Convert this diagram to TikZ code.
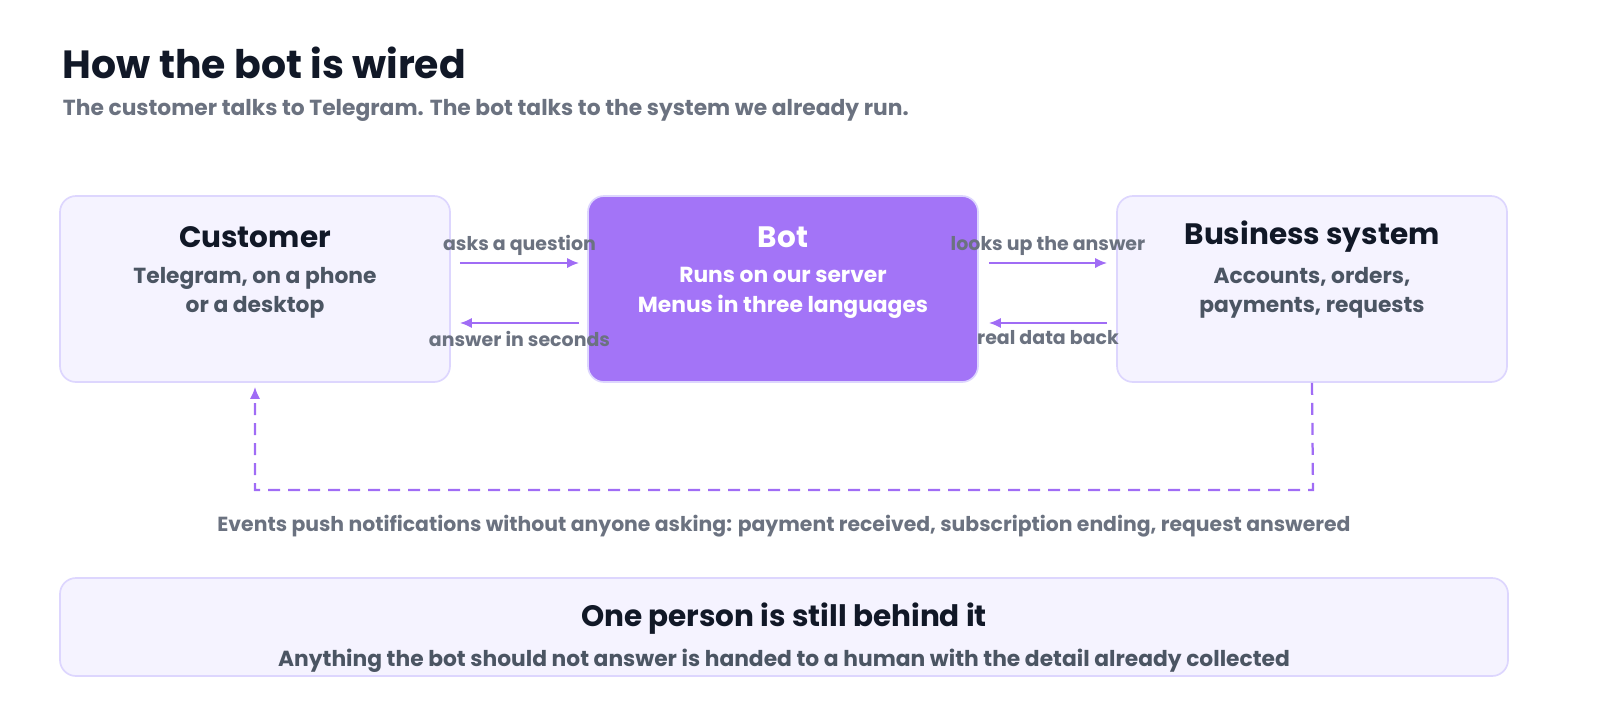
\documentclass[tikz,border=0pt]{standalone}
\usepackage{fontspec}
\setmainfont{Poppins}
\usetikzlibrary{arrows.meta,positioning}
\definecolor{ink}{HTML}{111827}
\definecolor{muted}{HTML}{6B7280}
\definecolor{body}{HTML}{4B5563}
\definecolor{boxfill}{HTML}{F5F3FF}
\definecolor{boxline}{HTML}{DDD6FE}
\definecolor{botfill}{HTML}{A374F7}
\definecolor{flowc}{HTML}{A06CF5}

\begin{document}
\begin{tikzpicture}[x=0.25mm,y=-0.25mm]
\tikzset{
box/.style = {rectangle, draw=boxline, line width=1.2pt, fill=boxfill,
  rounded corners=4mm, minimum width=97.5mm, minimum height=46.5mm},
boxhead/.style = {font=\fontsize{21}{25}\selectfont\bfseries, text=ink},
boxbody/.style = {font=\fontsize{15.5}{21}\selectfont\bfseries, text=body, align=center},
flow/.style = {draw=flowc, line width=1.6pt, -{Latex[length=3mm,width=2.6mm]}},
flowlab/.style = {font=\fontsize{13.5}{16}\selectfont\bfseries, text=muted}
}

% header
\node[anchor=west, font=\fontsize{28}{32}\selectfont\bfseries, text=ink] (title) at (58,63) {How the bot is wired};
\node[anchor=west, font=\fontsize{15.5}{18}\selectfont\bfseries, text=muted] (sub) at (58,110)
  {The customer talks to Telegram. The bot talks to the system we already run.};

% the three boxes
\node[box] (cust) at (255,289) {};
\node[box, fill=botfill, draw=boxline] (bot) at (783,289) {};
\node[box] (biz) at (1312,289) {};

\node[boxhead] (custhead) at (255,237) {Customer};
\node[boxbody] (custbody) at (255,293) {Telegram, on a phone\\or a desktop};
\node[boxhead, text=white] (bothead) at (783,237) {Bot};
\node[boxbody, text=white] (botbody) at (783,293) {Runs on our server\\Menus in three languages};
\node[boxhead] (bizhead) at (1312,237) {Business system};
\node[boxbody] (bizbody) at (1312,293) {Accounts, orders,\\payments, requests};

% request / reply arrows
\draw[flow] ([shift={(9,-26)}]cust.east) -- node[flowlab, above=0.5mm] {asks a question} ([shift={(-8,-26)}]bot.west);
\draw[flow] ([shift={(-8,34)}]bot.west) -- node[flowlab, below=0.5mm] {answer in seconds} ([shift={(9,34)}]cust.east);
\draw[flow] ([shift={(10,-26)}]bot.east) -- node[flowlab, above=0.5mm] {looks up the answer} ([shift={(-9,-26)}]biz.west);
\draw[flow] ([shift={(-9,34)}]biz.west) -- node[flowlab, below=0.5mm] {real data back} ([shift={(10,34)}]bot.east);

% push notifications
\coordinate (turnr) at (1313,490);
\coordinate (turnl) at (255,490);
\draw[flow, dashed, dash pattern=on 3mm off 2mm] (biz.south) -- (turnr) -- (turnl) -- ([yshift=-1mm]cust.south);
\node[font=\fontsize{14.5}{17}\selectfont\bfseries, text=muted] (events) at (784,526)
  {Events push notifications without anyone asking: payment received, subscription ending, request answered};

% bottom box
\node[box, minimum width=362mm, minimum height=24.5mm] (human) at (784,627) {};
\node[boxhead] (humanhead) at (784,619) {One person is still behind it};
\node[boxbody] (humanbody) at (784,661) {Anything the bot should not answer is handed to a human with the detail already collected};

\pgfresetboundingbox
\useasboundingbox (0,0) rectangle (1600,720);
\end{tikzpicture}
\end{document}
